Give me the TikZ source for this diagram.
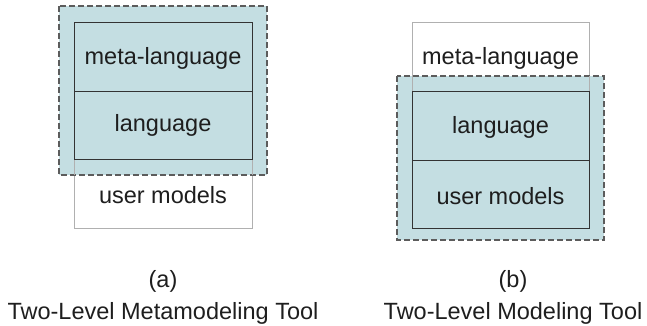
\documentclass[tikz,border=0pt]{standalone}
\usepackage{fontspec}
\setmainfont{Liberation Sans}
\definecolor{tealfill}{HTML}{C4DEE2}
\definecolor{dashgray}{HTML}{5C5C5C}
\definecolor{boxline}{HTML}{333333}
\definecolor{paleline}{HTML}{B0B0B0}
\definecolor{ink}{HTML}{1E1E1E}
\begin{document}
\begin{tikzpicture}[x=1pt,y=-1pt,
  every node/.style={font=\fontsize{23.5}{27}\selectfont, text=ink, inner sep=0pt},
  dashbox/.style={fill=tealfill, draw=dashgray, line width=1.6pt, dash pattern=on 6pt off 3pt},
  levelbox/.style={draw=boxline, line width=1pt},
  outerbox/.style={draw=paleline, line width=1pt},
  lbl/.style={anchor=center}]
\useasboundingbox (0,0) rectangle (647,325);

% (a) two-level metamodeling tool
\draw[outerbox, fill=white] (74,159) rectangle (252,228);
\draw[dashbox] (59,6) rectangle (267,175);
\draw[outerbox] (74,159) -- (74,175) (252,159) -- (252,175);
\draw[levelbox] (74,22) rectangle (252,91);
\draw[levelbox] (74,91) rectangle (252,159);
\node[lbl] (am) at (163,58) {meta-language};
\node[lbl] (al) at (163,125) {language};
\node[lbl] (au) at (163,195) {user models};

% (b) two-level modeling tool
\draw[outerbox, fill=white] (412,22) rectangle (589,91);
\draw[dashbox] (397,76) rectangle (604,240);
\draw[outerbox] (412,76) -- (412,91) (589,76) -- (589,91);
\draw[levelbox] (412,91) rectangle (589,160);
\draw[levelbox] (412,160) rectangle (589,228);
\node[lbl] (bm) at (500.5,58) {meta-language};
\node[lbl] (bl) at (500.5,127) {language};
\node[lbl] (bu) at (500.5,196) {user models};

% captions
\node[anchor=base] (ca) at (163,287) {(a)};
\node[anchor=base] (cat) at (163,319) {Two-Level Metamodeling Tool};
\node[anchor=base] (cb) at (513,287) {(b)};
\node[anchor=base] (cbt) at (513,319) {Two-Level Modeling Tool};
\end{tikzpicture}
\end{document}
